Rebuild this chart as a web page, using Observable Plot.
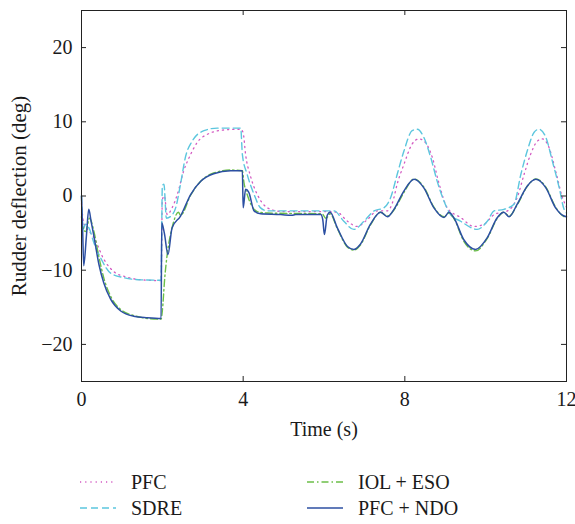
<!DOCTYPE html>
<html>
<head>
<meta charset="utf-8">
<script src="https://cdn.jsdelivr.net/npm/d3@7"></script>
<script src="https://cdn.jsdelivr.net/npm/@observablehq/plot@0.6"></script>
<style>
  body { margin: 0; background: #fff; }
  #wrap { width: 575px; position: relative; font-family: "Liberation Serif", serif; color: #1a1a1a; }
  #legend { position: relative; width: 575px; height: 74px; }
  .item { position: absolute; display: flex; align-items: center; font-size: 20px; height: 24px; }
  .item svg { margin-right: 15px; }
</style>
</head>
<body>
<div id="wrap"></div>
<script>
// Time axis ticks and y ticks
const xTicks = [0, 4, 8, 12];
const yTicks = [-20, -10, 0, 10, 20];

// PFC (dotted magenta)
const pfcT = [0,0.05,0.15,0.3,0.55,0.8,1.1,1.5,1.97,2.0,2.05,2.12,2.25,2.37,2.53,2.7,2.86,3.11,3.52,3.94,4.0,4.06,4.18,4.35,4.55,4.68,5.0,6.1,6.33,6.58,6.82,7.07,7.32,7.57,7.7,7.81,7.98,8.18,8.35,8.51,8.68,8.84,9.05,9.38,9.71,9.96,10.21,10.54,10.65,10.78,10.95,11.11,11.28,11.4,11.57,11.73,11.9,12];
const pfcY = [-1,-3.5,-4.5,-5.5,-8.5,-10.2,-10.9,-11.3,-11.4,-0.5,0.0,-2.5,-1.5,0.2,3.4,5.6,7.2,8.3,8.9,9.0,8.5,5.6,2.7,0.2,-1.4,-1.8,-2.1,-2.1,-2.2,-3.4,-4.1,-3.2,-2.0,-2.0,-0.8,1.6,4.3,7.0,7.7,7.2,5.2,1.8,-1.6,-2.9,-4.1,-3.8,-2.5,-2.0,-1.5,-0.2,2.9,5.6,7.4,7.7,6.5,3.4,-0.2,-1.5];

// SDRE (dashed cyan)
const sdreT = [0,0.04,0.1,0.2,0.3,0.47,0.72,1.05,1.46,1.97,2.0,2.04,2.1,2.25,2.33,2.45,2.57,2.74,3.03,3.36,3.94,3.98,4.1,4.27,4.43,4.6,6.1,6.25,6.49,6.74,6.99,7.24,7.48,7.65,7.81,7.98,8.18,8.31,8.47,8.64,8.8,8.97,9.13,9.38,9.79,10.04,10.21,10.45,10.7,10.87,11.03,11.2,11.32,11.49,11.65,11.82,11.94,12];
const sdreY = [0,-4.5,-3.8,-4.5,-6.2,-8.3,-10.4,-11.0,-11.3,-11.35,1.4,1.6,-3.0,-2.5,-1.6,1.6,5.2,7.4,8.8,9.15,9.15,5.6,2.9,0.2,-1.6,-2.0,-2.0,-2.0,-3.4,-4.5,-3.4,-2.0,-1.6,-0.2,2.9,6.1,8.8,9.0,7.9,5.2,2.0,-0.7,-2.5,-3.4,-4.5,-3.4,-2.0,-1.8,-1.1,2.9,6.1,8.6,9.0,7.9,4.7,1.1,-1.8,-2.3];

// IOL + ESO (dash-dot green)
const iolT = [0,0.05,0.1,0.2,0.3,0.43,0.55,0.72,0.97,1.29,1.63,1.97,2.0,2.06,2.12,2.24,2.4,2.45,2.7,2.95,3.27,3.69,3.98,4.02,4.1,4.2,4.35,4.6,5.95,6.05,6.15,6.33,6.58,6.74,6.9,7.15,7.4,7.57,7.73,7.98,8.23,8.47,8.72,8.97,9.09,9.21,9.46,9.75,10.04,10.29,10.45,10.58,10.78,11.03,11.24,11.49,11.73,11.94,12];
const iolY = [-2.8,-4.5,-4.8,-3.0,-4.6,-8.2,-11.0,-13.5,-15.3,-16.1,-16.5,-16.6,-15.5,-11,-7.9,-4.3,-2.2,-2.6,0.1,2.0,3.1,3.5,3.4,1.8,0.2,-1.2,-2.1,-2.3,-2.4,-3.0,-2.4,-4.4,-6.9,-7.3,-6.6,-3.9,-2.2,-2.7,-1.9,0.5,2.3,1.2,-1.5,-2.8,-2.3,-3.0,-6.1,-7.4,-5.7,-3.0,-2.2,-2.7,-1.2,1.3,2.3,1.2,-1.5,-2.8,-2.9];

// PFC + NDO (solid blue)
const ndoT = [0,0.03,0.055,0.12,0.18,0.24,0.3,0.43,0.55,0.72,0.97,1.29,1.63,1.97,1.985,2.05,2.14,2.24,2.45,2.7,2.95,3.27,3.69,3.98,4.0,4.06,4.14,4.27,4.43,4.93,5.2,5.3,5.92,5.97,6.01,6.08,6.15,6.33,6.58,6.74,6.9,7.15,7.4,7.57,7.73,7.98,8.23,8.47,8.72,8.97,9.09,9.21,9.46,9.75,10.04,10.29,10.45,10.58,10.78,11.03,11.24,11.49,11.73,11.94,12];
const ndoY = [0,-5,-9.4,-5.5,-1.8,-3.5,-5.2,-9.2,-11.7,-13.9,-15.5,-16.2,-16.4,-16.5,-3.6,-5,-7.9,-4.3,-2.7,0.2,2.0,3.0,3.4,3.4,-1.6,0.9,0.5,-2.0,-2.4,-2.5,-2.6,-2.5,-2.5,-3.2,-5.2,-2.6,-2.2,-4.3,-6.8,-7.2,-6.5,-3.8,-2.2,-2.8,-1.8,0.7,2.25,1.1,-1.6,-2.9,-2.2,-2.9,-5.9,-7.2,-5.6,-2.9,-2.2,-2.8,-1.1,1.35,2.25,1.1,-1.6,-2.7,-2.8];

const seriesNames = ["PFC", "SDRE", "IOL + ESO", "PFC + NDO"];
const seriesT = [pfcT, sdreT, iolT, ndoT];
const seriesY = [pfcY, sdreY, iolY, ndoY];
const colors = ["#d35ac2", "#5cc6de", "#6cbf48", "#2c4fa2"];
const dashes = ["1.2,4", "7,4", "7,3,1.5,3", null];
const widths = [1.3, 1.4, 1.4, 1.5];

const rows = seriesNames.flatMap((name, k) => seriesT[k].map((t, i) => ({name, t, y: seriesY[k][i]})));

const font = "Liberation Serif";
const W = 575, H = 450;

const lineMarks = seriesNames.map((name, k) =>
  Plot.line(rows.filter(d => d.name === name), {
    x: "t", y: "y", stroke: colors[k], strokeWidth: widths[k],
    strokeDasharray: dashes[k] || undefined, curve: "monotone-x"
  })
);

const tx = 0.124, ty = 0.675;
const chart = Plot.plot({
  width: W, height: H,
  marginLeft: 81, marginRight: 9, marginTop: 10, marginBottom: 69,
  style: {fontFamily: font, fontSize: "20px", color: "#1a1a1a", background: "#fff"},
  x: {domain: [0, 12]},
  y: {domain: [-25, 25]},
  marks: [
    ...lineMarks,
    Plot.frame({stroke: "#222", strokeWidth: 1}),
    Plot.ruleX(xTicks, {x: d => d, y1: -25, y2: -25 + ty, stroke: "#222"}),
    Plot.ruleX(xTicks, {x: d => d, y1: 25, y2: 25 - ty, stroke: "#222"}),
    Plot.ruleY(yTicks, {y: d => d, x1: 0, x2: tx, stroke: "#222"}),
    Plot.ruleY(yTicks, {y: d => d, x1: 12, x2: 12 - tx, stroke: "#222"}),
    Plot.axisX(xTicks, {tickSize: 0, tickPadding: 10, label: null, fontSize: 20, tickFormat: d => String(d)}),
    Plot.axisY(yTicks, {tickSize: 0, tickPadding: 9, label: null, fontSize: 20, tickFormat: d => d < 0 ? "\u2212" + Math.abs(d) : String(d)}),
    Plot.text(["Time (s)"], {frameAnchor: "bottom", dy: 54, text: d => d, fontSize: 20, fill: "#1a1a1a"}),
    Plot.text(["Rudder deflection (deg)"], {frameAnchor: "left", dx: -62, rotate: -90, textAnchor: "middle", text: d => d, fontSize: 21, fill: "#1a1a1a"})
  ]
});

const wrap = document.getElementById("wrap");
wrap.appendChild(chart);

const legend = document.createElement("div");
legend.id = "legend";
const pos = [[80, 32], [80, 58], [307, 32], [307, 58]];
seriesNames.forEach((name, k) => {
  const item = document.createElement("div");
  item.className = "item";
  item.style.left = pos[k][0] + "px";
  item.style.top = (pos[k][1] - 12) + "px";
  const dash = dashes[k] ? ` stroke-dasharray="${dashes[k]}"` : "";
  item.innerHTML = `<svg width="36" height="10"><line x1="0" y1="5" x2="36" y2="5" stroke="${colors[k]}" stroke-width="${widths[k]}"${dash}/></svg><span>${name}</span>`;
  legend.appendChild(item);
});
wrap.appendChild(legend);
</script>
</body>
</html>
